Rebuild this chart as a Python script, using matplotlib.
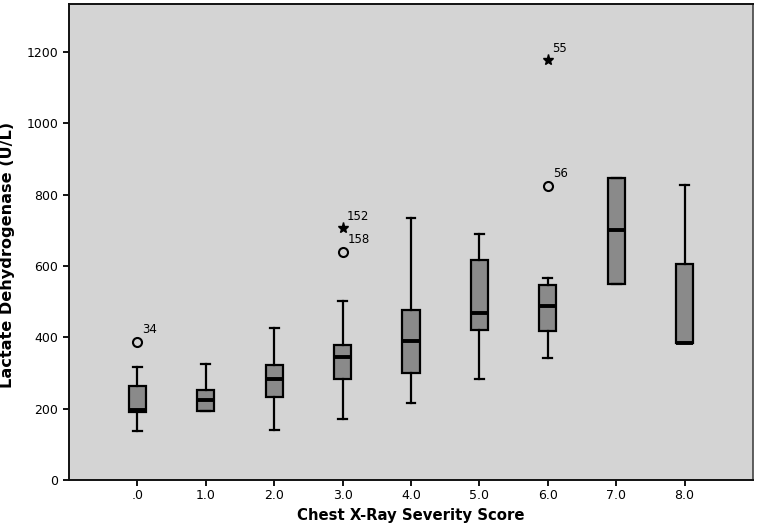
import matplotlib
matplotlib.use('Agg')
import matplotlib.pyplot as plt

# Chest X-ray severity score categories
categories = ['.0', '1.0', '2.0', '3.0', '4.0', '5.0', '6.0', '7.0', '8.0']

# box statistics (LDH, U/L)
whisk_lo = [136, 193, 141, 171, 217, 283, 343, 550, 383]
q1       = [190, 193, 233, 284, 299, 421, 418, 550, 383]
median   = [196, 224, 282, 344, 390, 467, 488, 701, 383]
q3       = [263, 252, 321, 379, 477, 617, 547, 846, 606]
whisk_hi = [317, 325, 427, 502, 733, 690, 565, 846, 827]

# outliers: (category index, value, case id)
circle_out = [(0, 388, '34'), (3, 640, '158'), (6, 824, '56')]
star_out   = [(3, 705, '152'), (6, 1176, '55')]

BG = '#d4d4d4'
BOX = '#8a8a8a'

fig = plt.figure(figsize=(7.57, 5.30), dpi=100)
ax = fig.add_axes([69 / 757, 50 / 530, 684 / 757, 476 / 530])
ax.set_facecolor(BG)

stats = []
for i in range(len(categories)):
    stats.append({'whislo': whisk_lo[i], 'q1': q1[i], 'med': median[i],
                  'q3': q3[i], 'whishi': whisk_hi[i], 'fliers': []})

ax.bxp(stats, positions=range(len(categories)), widths=0.25,
       patch_artist=True, showfliers=False,
       boxprops=dict(facecolor=BOX, edgecolor='black', linewidth=1.6),
       medianprops=dict(color='black', linewidth=2.8),
       whiskerprops=dict(color='black', linewidth=1.6),
       capprops=dict(color='black', linewidth=1.6),
       capwidths=0.13)

for i, v, lab in circle_out:
    ax.plot(i, v, 'o', mfc='none', mec='black', mew=1.5, ms=6.5)
    ax.annotate(lab, (i, v), xytext=(3.5, 4), textcoords='offset points',
                fontsize=8.5, ha='left', va='bottom')
for i, v, lab in star_out:
    ax.plot(i, v, marker='*', color='black', ms=8, ls='none')
    ax.annotate(lab, (i, v), xytext=(3, 4), textcoords='offset points',
                fontsize=8.5, ha='left', va='bottom')

ax.set_xlim(-1, len(categories))
ax.set_ylim(0, 1334)
ax.set_xticks(range(len(categories)))
ax.set_xticklabels(categories)
ax.set_yticks([0, 200, 400, 600, 800, 1000, 1200])
ax.tick_params(axis='both', labelsize=9, length=4.3, width=1.3, direction='out')
ax.tick_params(axis='x', pad=2.5)

for side in ['left', 'bottom', 'top']:
    ax.spines[side].set_linewidth(1.4)
    ax.spines[side].set_color('#111111')
ax.spines['right'].set_linewidth(1.2)
ax.spines['right'].set_color('#444444')

ax.set_xlabel('Chest X-Ray Severity Score', fontsize=10.7, fontweight='bold', labelpad=4)
ax.set_ylabel('Lactate Dehydrogenase (U/L)', fontsize=11.6, fontweight='bold')
ax.yaxis.set_label_coords(-0.079, 0.473)

fig.savefig('out.png', dpi=100)
